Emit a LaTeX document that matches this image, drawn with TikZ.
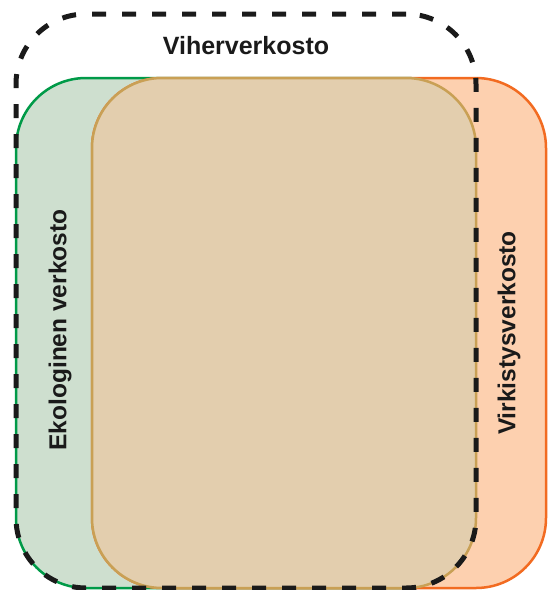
\documentclass[tikz,border=0pt]{standalone}
\usepackage{fontspec}
\setmainfont{Liberation Sans}
\usepackage{xcolor}
\usepackage{tikz}

\definecolor{ekoline}{HTML}{009A48}
\definecolor{ekofill}{HTML}{CEDFCF}
\definecolor{virline}{HTML}{F26B21}
\definecolor{virfill}{HTML}{FDD0AF}
\definecolor{bothline}{HTML}{C9A055}
\definecolor{bothfill}{HTML}{E3CEAE}
\definecolor{ink}{HTML}{1A1A1A}

\begin{document}
\begin{tikzpicture}[x=1pt, y=-1pt]
    \tikzstyle{area} = [rectangle, rounded corners=70pt, inner sep=0pt, outer sep=0pt, minimum height=510pt, line width=2.5pt]
    \tikzstyle{eko} = [area, minimum width=460pt, draw=ekoline, fill=ekofill]
    \tikzstyle{virkistys} = [area, minimum width=454pt, draw=virline, fill=virfill]
    \tikzstyle{both} = [area, minimum width=384pt, draw=bothline, fill=bothfill]
    \tikzstyle{viher} = [rectangle, rounded corners=70pt, inner sep=0pt, minimum width=460pt, minimum height=574pt, draw=ink, line width=5pt, dash pattern=on 14pt off 16pt]
    \tikzstyle{label} = [font=\bfseries\fontsize{24.5}{28}\selectfont, text=ink, inner sep=0pt]

    \useasboundingbox (0,0) rectangle (548,590);

    % Networks
    \node [eko] (eko_net) at (246,333) {};
    \node [virkistys] (vir_net) at (319,333) {};
    \node [both] (overlap) at (284,333) {};
    \node [viher] (viher_net) at (246,301) {};

    % Labels
    \node [label, font=\bfseries\fontsize{25}{28}\selectfont] (viher_label) at (246,46) {Viherverkosto};
    \node [label, rotate=90] (eko_label) at (60,330) {Ekologinen verkosto};
    \node [label, rotate=90] (vir_label) at (509,333) {Virkistysverkosto};
\end{tikzpicture}
\end{document}
